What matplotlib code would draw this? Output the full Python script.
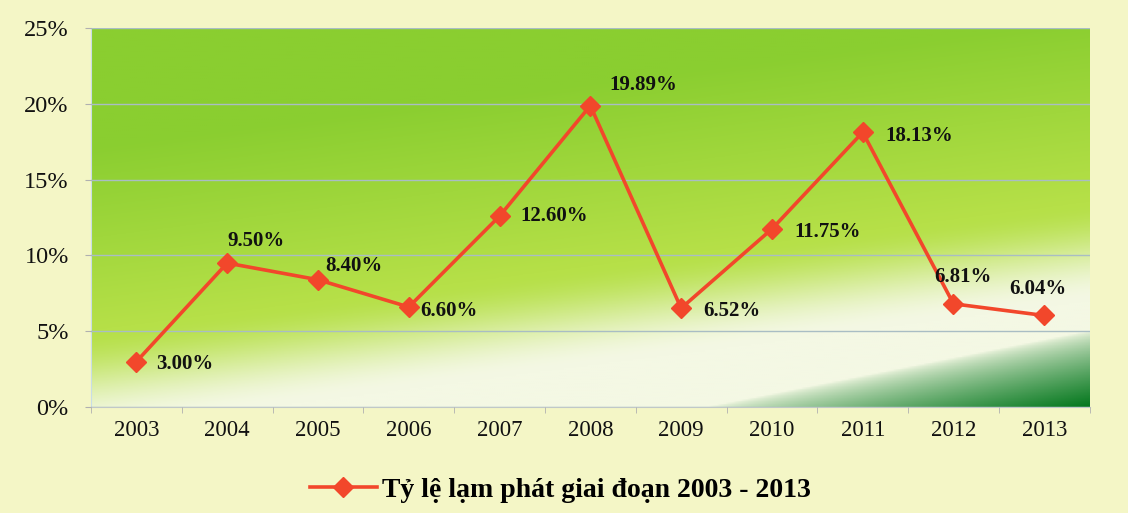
import numpy as np
import matplotlib.pyplot as plt
from matplotlib.lines import Line2D

# Data
years = ['2003', '2004', '2005', '2006', '2007', '2008', '2009', '2010', '2011', '2012', '2013']
inflation = [3.00, 9.50, 8.40, 6.60, 12.60, 19.89, 6.52, 11.75, 18.13, 6.81, 6.04]
label_offsets = [(14, -2), (0, 16), (5, 10), (8, -3), (15, 0), (14, 15),
                 (16, -2), (16, -2), (16, -3), (-14, 19), (-25, 19)]
legend_label = 'Tỷ lệ lạm phát giai đoạn 2003 - 2013'

SERIF = ['Liberation Serif', 'DejaVu Serif']
LINE_COLOR = '#f2472b'

fig = plt.figure(figsize=(11.28, 5.13), dpi=100)
fig.patch.set_facecolor('#f4f6c6')
ax = fig.add_axes([0.0807, 0.2066, 0.8853, 0.7384])

# Gradient background of the plot area (green top, pale diagonal band, dark corner)
h, w = 250, 500
u = np.linspace(0, 1, h)[:, None] * np.ones((1, w))   # 0 bottom, 1 top
x = np.ones((h, 1)) * np.linspace(0, 1, w)[None, :]
lime = np.array([138, 206, 48]) / 255
light = np.array([182, 224, 72]) / 255
pale = np.array([244, 248, 228]) / 255
dark = np.array([5, 120, 30]) / 255
c = -0.06 + 0.34 * x
g = np.clip((u - c) / 0.75, 0, 1)
g1 = np.clip(g / 0.35, 0, 1)
g1 = (g1 * g1 * (3 - 2 * g1))[..., None]
g2 = np.clip((g - 0.35) / 0.65, 0, 1)[..., None]
base = pale * (1 - g1) + light * g1
base = base * (1 - g2) + lime * g2
ud = 0.2 * (x - 0.62) / 0.38
d = np.clip((ud - u) / 0.2, 0, 1)[..., None] ** 0.7
img = base * (1 - d) + dark * d
ax.imshow(img, extent=[-0.5, 10.5, 0, 25], origin='lower', aspect='auto', zorder=0)

xs = np.arange(len(years))
ax.plot(xs, inflation, color=LINE_COLOR, lw=2.6, marker='D', markersize=10.5,
        markerfacecolor=LINE_COLOR, markeredgecolor=LINE_COLOR, zorder=3)

for xi, val, (dx, dy) in zip(xs, inflation, label_offsets):
    ax.annotate(f'{val:.2f}%', (xi, val), xytext=(dx, dy), textcoords='offset points',
                ha='left', va='center', fontsize=15, fontweight='bold',
                family=SERIF, color='#111111', zorder=4)

ax.set_xlim(-0.5, 10.5)
ax.set_ylim(0, 25)
ax.set_yticks([0, 5, 10, 15, 20, 25])
ax.set_yticklabels(['0%', '5%', '10%', '15%', '20%', '25%'])
ax.set_xticks(xs)
ax.set_xticklabels(years)
ax.set_xticks(np.arange(-0.5, 11, 1), minor=True)
ax.tick_params(axis='x', which='major', length=0, pad=9)
ax.tick_params(axis='x', which='minor', length=4, color='#b0b0b0')
ax.tick_params(axis='y', length=4, color='#b0b0b0', pad=12)
for lbl in ax.get_yticklabels():
    lbl.set_family(SERIF)
    lbl.set_fontsize(17.5)
    lbl.set_color('#111111')
for lbl in ax.get_xticklabels():
    lbl.set_family(SERIF)
    lbl.set_fontsize(16.5)
    lbl.set_color('#111111')

ax.grid(axis='y', color='#a9bdc4', lw=1.0, zorder=1)
ax.set_axisbelow(False)
for side in ['top', 'right']:
    ax.spines[side].set_visible(False)
ax.spines['left'].set_color('#c8dde6')
ax.spines['bottom'].set_color('#c0c8c8')

handle = Line2D([0], [0], color=LINE_COLOR, lw=2.6, marker='D', markersize=10.5)
fig.legend([handle], [legend_label], loc='center', bbox_to_anchor=(0.497, 0.045),
           frameon=False, handlelength=2.4, handletextpad=0.2,
           prop={'family': SERIF, 'weight': 'bold', 'size': 20})

fig.savefig('out.png', dpi=100, facecolor=fig.get_facecolor())
